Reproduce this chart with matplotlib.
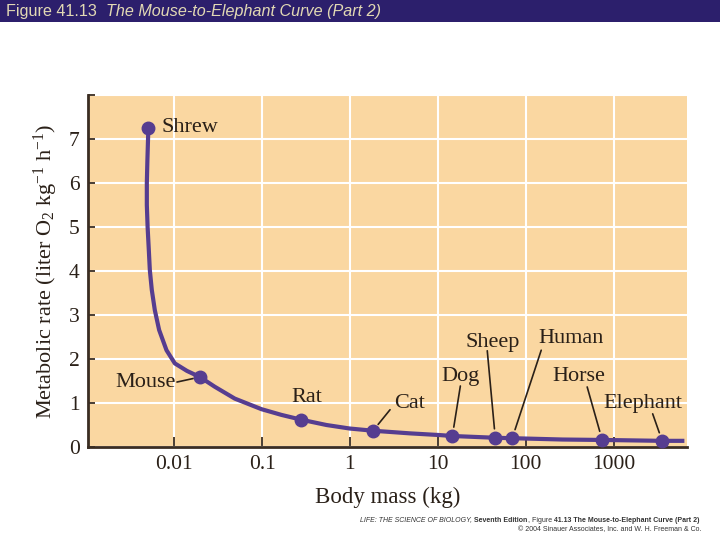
import matplotlib
matplotlib.use("Agg")
import matplotlib.pyplot as plt
import numpy as np

plt.rcParams['font.family'] = ['Liberation Serif', 'DejaVu Serif']
plt.rcParams['mathtext.fontset'] = 'custom'
plt.rcParams['mathtext.rm'] = 'Liberation Serif'
plt.rcParams['mathtext.it'] = 'Liberation Serif:italic'

# animals: body mass (kg) and metabolic rate (liter O2 / kg / h)
animals = ['Shrew', 'Mouse', 'Rat', 'Cat', 'Dog', 'Sheep', 'Human', 'Horse', 'Elephant']
mass = [0.0051, 0.0197, 0.28, 1.83, 14.6, 44.9, 70, 738, 3550]
rate = [7.25, 1.59, 0.62, 0.37, 0.25, 0.21, 0.20, 0.16, 0.14]

# curve
curve_mass = [0.0051, 0.00497, 0.0049, 0.0049, 0.0050, 0.00516, 0.0053, 0.00558, 0.00604,
              0.00676, 0.0082, 0.0102, 0.0140, 0.0197, 0.029, 0.049, 0.0985, 0.166,
              0.28, 0.54, 0.993, 1.83, 4.8, 10.7, 14.6, 44.9, 70, 261, 738, 3550, 6350]
curve_rate = [7.25, 6.5, 6.0, 5.5, 5.0, 4.48, 4.02, 3.57, 3.11,
              2.66, 2.2, 1.9, 1.73, 1.59, 1.37, 1.1, 0.86, 0.73,
              0.62, 0.5, 0.42, 0.37, 0.31, 0.27, 0.25, 0.21, 0.20, 0.17, 0.16, 0.14, 0.14]

xticks = [0.01, 0.1, 1, 10, 100, 1000]
xticklabels = ['0.01', '0.1', '1', '10', '100', '1000']
yticks = [0, 1, 2, 3, 4, 5, 6, 7, 8]

# label placement in pixels: text offset, leader start offset (None = no leader), ha
px = 0.72
label_pos = {
    'Shrew':    ((13, 0), None, 'left'),
    'Mouse':    ((-24, -5.5), (-23, -5), 'right'),
    'Rat':      ((5, 22), None, 'center'),
    'Cat':      ((21, 27), (17, 21), 'left'),
    'Dog':      ((8, 59), (8, 50), 'center'),
    'Sheep':    ((-3, 95.5), (-8, 87), 'center'),
    'Human':    ((59, 100), (29, 88), 'center'),
    'Horse':    ((-23, 63), (-15, 53), 'center'),
    'Elephant': ((-19, 37.5), (-9.5, 27), 'center'),
}

purple = '#563d90'
ink = '#2a2018'
fig = plt.figure(figsize=(7.2, 5.4), dpi=100)
fig.patch.set_facecolor('white')

# header bar
fig.patches.append(plt.Rectangle((0, 1 - 22 / 540), 1, 22 / 540, transform=fig.transFigure,
                                 facecolor='#2c1f6c', edgecolor='none', zorder=0))
t = fig.text(6 / 720, 1 - 11.5 / 540, 'Figure 41.13  ', color='#e2d9b4', fontsize=11.6,
             family='Liberation Sans', va='center')
fig.canvas.draw()
bb = t.get_window_extent()
fig.text(bb.x1 / 720, 1 - 11.5 / 540, 'The Mouse-to-Elephant Curve (Part 2)', color='#e2d9b4',
         fontsize=11.6, family='Liberation Sans', style='italic', va='center')

ax = fig.add_axes([88 / 720, 93 / 540, 599 / 720, 352 / 540])
ax.set_facecolor('#fad7a1')
ax.set_xscale('log')
ax.set_xlim(0.00105, 6800)
ax.set_ylim(0, 8)

ax.set_xticks(xticks)
ax.set_xticklabels(xticklabels)
ax.xaxis.set_minor_locator(matplotlib.ticker.NullLocator())
ax.set_yticks(yticks)
ax.set_yticklabels([str(v) for v in yticks[:-1]] + [''])
ax.tick_params(axis='both', direction='in', labelsize=15.5, color='#3a2d22', width=1.3,
               labelcolor=ink)
ax.tick_params(axis='x', length=7, pad=6)
ax.tick_params(axis='y', length=5, pad=6)

ax.grid(True, color='white', linewidth=1.5)
ax.set_axisbelow(True)
for s in ['top', 'right']:
    ax.spines[s].set_visible(False)
for s in ['left', 'bottom']:
    ax.spines[s].set_color('#3a2d22')
    ax.spines[s].set_linewidth(2)

ax.plot(curve_mass, curve_rate, color=purple, linewidth=3, solid_capstyle='butt',
        solid_joinstyle='round', zorder=3)
ax.plot(mass, rate, 'o', color=purple, markersize=9, zorder=4, clip_on=False)

for name, m, r in zip(animals, mass, rate):
    (tx, ty), lead, ha = label_pos[name]
    ax.annotate(name, xy=(m, r), xytext=(tx * px, ty * px), textcoords='offset points',
                ha=ha, va='center', fontsize=16, color=ink, zorder=5,
                annotation_clip=False)
    if lead is not None:
        d = np.hypot(*lead)
        ax.annotate('', xy=(m, r), xytext=(lead[0] * px, lead[1] * px),
                    textcoords='offset points',
                    arrowprops=dict(arrowstyle='-', color=ink, lw=1.2,
                                    shrinkA=0, shrinkB=min(9, d * 0.3) * px),
                    annotation_clip=False)

ax.set_xlabel('Body mass (kg)', fontsize=16.5, labelpad=9, color=ink)
ax.set_ylabel('Metabolic rate (liter O$_2$ kg$^{-1}$ h$^{-1}$)', fontsize=16, labelpad=6,
              color=ink)

# footer credit
f1 = fig.text(360 / 720, 1 - 520 / 540, 'LIFE: THE SCIENCE OF BIOLOGY, ', fontsize=5,
              family='Liberation Sans', style='italic', va='center', color='#333333')
f2 = ax.annotate('Seventh Edition', xy=(1, 0), xycoords=f1, va='bottom', fontsize=5,
                 family='Liberation Sans', weight='bold', color='#333333', annotation_clip=False)
f3 = ax.annotate(', Figure ', xy=(1, 0), xycoords=f2, va='bottom', fontsize=5,
                 family='Liberation Sans', color='#333333', annotation_clip=False)
ax.annotate('41.13 The Mouse-to-Elephant Curve (Part 2)', xy=(1, 0), xycoords=f3, va='bottom',
            fontsize=5, family='Liberation Sans', weight='bold', color='#333333',
            annotation_clip=False)
fig.text(702 / 720, 1 - 530 / 540, '\u00a9 2004 Sinauer Associates, Inc. and W. H. Freeman & Co.',
         fontsize=5, family='Liberation Sans', ha='right', va='center', color='#333333')

fig.savefig('out.png', dpi=100)
